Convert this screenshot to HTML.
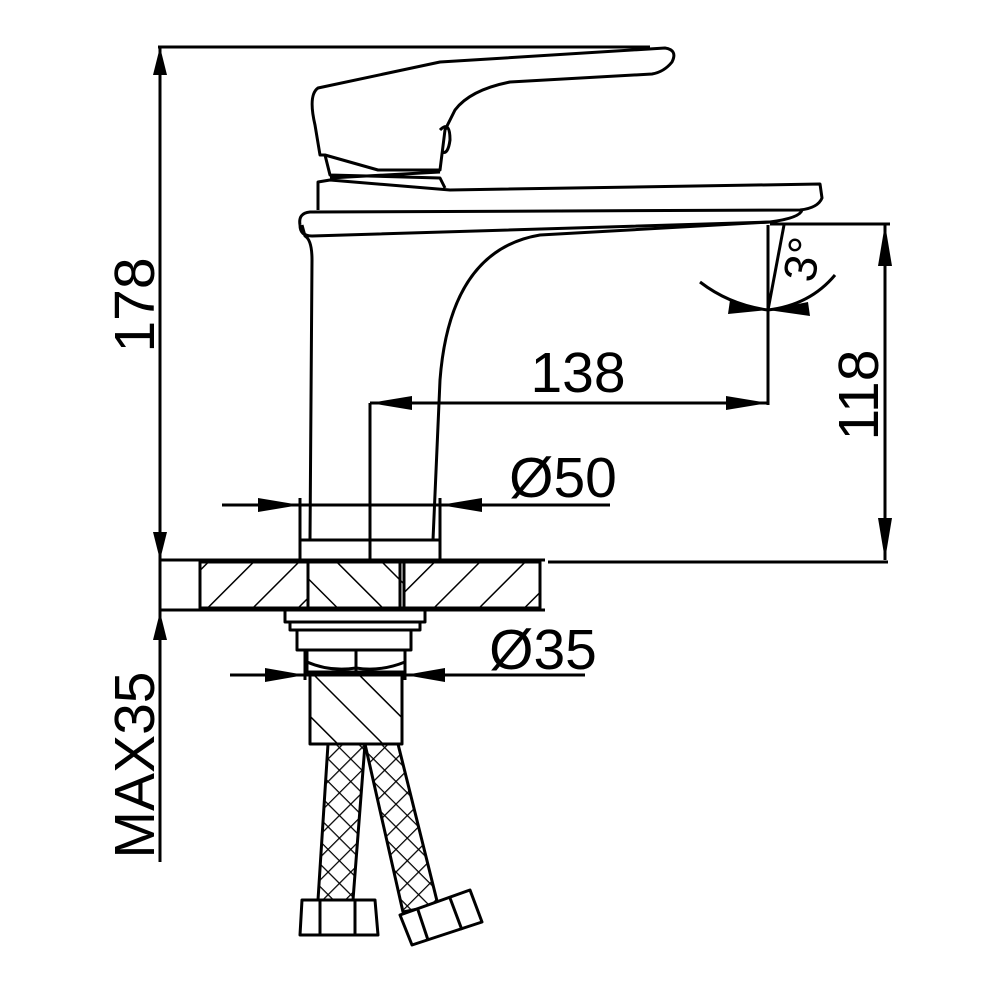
<!DOCTYPE html>
<html><head><style>html,body{margin:0;padding:0;background:#fff}svg{display:block}</style></head>
<body>
<svg width="1000" height="1000" viewBox="0 0 1000 1000" xmlns="http://www.w3.org/2000/svg">
<defs>
<pattern id="h1" patternUnits="userSpaceOnUse" width="32" height="32" patternTransform="rotate(45)"><line x1="0" y1="0" x2="0" y2="32" stroke="#000" stroke-width="3"/></pattern>
<pattern id="h2" patternUnits="userSpaceOnUse" width="32" height="32" patternTransform="rotate(-45)"><line x1="0" y1="0" x2="0" y2="32" stroke="#000" stroke-width="3"/></pattern>
<pattern id="x1" patternUnits="userSpaceOnUse" width="16" height="16" patternTransform="rotate(45)"><path d="M0 0V16M0 0H16" stroke="#000" stroke-width="2.5"/></pattern>
</defs>
<g fill="none" stroke="#000" stroke-width="3" stroke-linejoin="round">
<line x1="158" y1="47" x2="650" y2="47"/>
<line x1="160" y1="47" x2="160" y2="560"/>
<line x1="160" y1="560" x2="545" y2="560"/>
<line x1="548" y1="562" x2="888" y2="562"/>
<line x1="160" y1="560" x2="160" y2="610"/>
<line x1="160" y1="610" x2="545" y2="610"/>
<rect x="200" y="562" width="340" height="46" fill="url(#h1)"/>
<rect x="308" y="562" width="96" height="46" fill="#fff"/>
<rect x="308" y="562" width="96" height="46" fill="url(#h2)"/>
<line x1="400" y1="562" x2="400" y2="608"/>
<line x1="160" y1="610" x2="160" y2="862"/>
<rect x="300" y="540" width="140" height="20" fill="#fff"/>
<line x1="370" y1="540" x2="370" y2="560"/>
<path d="M310 540 L312 260 Q312 240 305 236 L302 225" />
<path d="M433 540 L440 380 Q450 250 540 235 L770 222"/>
<path d="M300 225 Q298 213 310 212 L800 210 Q818 208 822 198 L820 184 L450 190 L330 180 L318 182 L318 210" />
<path d="M300 225 Q300 236 312 236 L770 222 Q800 218 802 210"/>
<path d="M320 155 L315 125 Q308 95 318 88 L440 62 L665 48 Q678 50 672 62 Q664 72 652 74 L510 82 Q470 90 455 110 L445 130 L440 170 L378 170 L325 155 Z"/>
<path d="M325 155 L330 175 L440 178 L445 188"/>
<path d="M440 130 Q450 120 450 140 Q448 155 442 152"/>
<line x1="330" y1="178" x2="440" y2="172"/>
<line x1="370" y1="403" x2="370" y2="560"/>
<line x1="768" y1="225" x2="768" y2="405"/>
<line x1="370" y1="403" x2="768" y2="403"/>
<line x1="770" y1="224" x2="890" y2="224"/>
<line x1="885" y1="224" x2="885" y2="560"/>
<line x1="768" y1="310" x2="784" y2="225"/>
<path d="M700 282 Q730 305 768 310 Q810 305 835 275"/>
<line x1="222" y1="505" x2="610" y2="505"/>
<line x1="300" y1="498" x2="300" y2="540"/>
<line x1="440" y1="498" x2="440" y2="540"/>
<rect x="285" y="610" width="140" height="12" fill="#fff"/>
<rect x="290" y="622" width="130" height="8"/>
<rect x="297" y="630" width="114" height="20"/>
<path d="M307 650 L307 672 L405 672 L405 650 M356 650 L356 672"/>
<path d="M307 662 Q330 672 356 668 Q380 672 405 662"/>
<rect x="310" y="672" width="92" height="72" fill="url(#h2)"/>
<line x1="230" y1="675" x2="585" y2="675"/>
<line x1="305" y1="650" x2="305" y2="680"/>
<line x1="405" y1="650" x2="405" y2="680"/>
<path d="M328 744 L318 900 L353 900 L365 744 Z" fill="url(#x1)"/>
<path d="M365 744 L403 912 L438 905 L398 744 Z" fill="url(#x1)"/>
<path d="M302 900 L375 900 L378 935 L300 935 Z" fill="#fff"/>
<line x1="320" y1="900" x2="320" y2="935"/><line x1="355" y1="900" x2="355" y2="935"/>
<path d="M400 915 L470 890 L482 922 L412 945 Z" fill="#fff"/>
<line x1="418" y1="910" x2="428" y2="940"/><line x1="450" y1="898" x2="462" y2="930"/>
</g>
<g fill="#000">
<polygon points="160,47 153,75 167,75"/>
<polygon points="160,560 153,532 167,532"/>
<polygon points="160,612 153,640 167,640"/>
<polygon points="370,403 412,396 412,410"/>
<polygon points="768,403 726,396 726,410"/>
<polygon points="885,224 878,266 892,266"/>
<polygon points="885,560 878,518 892,518"/>
<polygon points="300,505 258,498 258,512"/>
<polygon points="440,505 482,498 482,512"/>
<polygon points="305,675 265,668 265,682"/>
<polygon points="405,675 445,668 445,682"/>
<polygon points="768,310 730,300 728,314"/>
<polygon points="768,310 808,302 810,316"/>
</g>
<g font-family="Liberation Sans, sans-serif" font-size="57" fill="#000">
<text transform="translate(154,305) rotate(-90)" text-anchor="middle">178</text>
<text transform="translate(154,765) rotate(-90)" text-anchor="middle">MAX35</text>
<text transform="translate(878,395) rotate(-90)" text-anchor="middle">118</text>
<text x="578" y="392" text-anchor="middle">138</text>
<text x="563" y="497" text-anchor="middle">Ø50</text>
<text x="543" y="669" text-anchor="middle">Ø35</text>
<text transform="translate(818,262) rotate(-80)" text-anchor="middle" font-size="46">3°</text>
</g>
</svg>
</body></html>
